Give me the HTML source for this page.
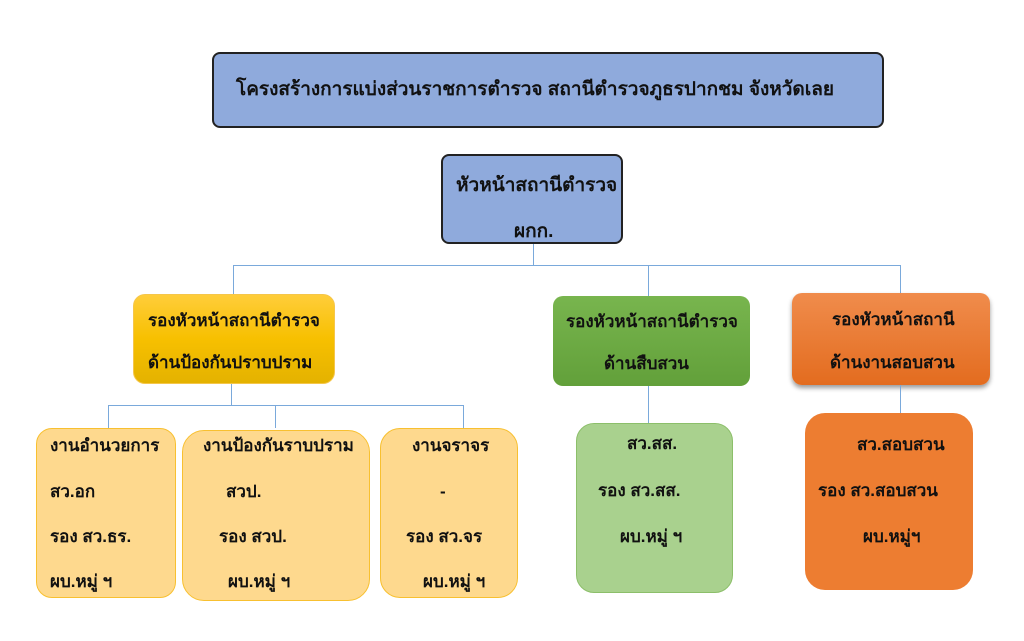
<!DOCTYPE html>
<html><head><meta charset="utf-8"><style>
body{margin:0;width:1024px;height:641px;background:#fff;position:relative;overflow:hidden;font-family:"Liberation Sans","DejaVu Sans",sans-serif;font-weight:bold;color:#111}
.b{position:absolute;box-sizing:border-box}
.t{position:absolute;font-size:17px;white-space:nowrap;line-height:20px}
.l{position:absolute;background:#7aa9db}
</style></head><body>
<div class="b" style="left:212px;top:52px;width:672px;height:76px;background:#8faadc;border:2px solid #222;border-radius:8px"></div>
<div class="t" style="left:236px;top:80px;font-size:19px">โครงสร้างการแบ่งส่วนราชการตำรวจ สถานีตำรวจภูธรปากชม จังหวัดเลย</div>
<div class="b" style="left:441px;top:154px;width:182px;height:90px;background:#8faadc;border:2px solid #222;border-radius:8px"></div>
<div class="t" style="left:456px;top:176px;font-size:19px">หัวหน้าสถานีตำรวจ</div>
<div class="t" style="left:514px;top:222px;font-size:19px">ผกก.</div>
<div class="l" style="left:533px;top:244px;width:1px;height:22px"></div>
<div class="l" style="left:233px;top:265px;width:668px;height:1px"></div>
<div class="l" style="left:233px;top:265px;width:1px;height:29px"></div>
<div class="l" style="left:648px;top:265px;width:1px;height:31px"></div>
<div class="l" style="left:900px;top:265px;width:1px;height:28px"></div>
<div class="b" style="left:133px;top:294px;width:202px;height:90px;background:linear-gradient(#ffcd3a,#f7c000 50%,#e4b200);border:1px solid #f5c64a;border-radius:12px"></div>
<div class="t" style="left:148px;top:311px">รองหัวหน้าสถานีตำรวจ</div>
<div class="t" style="left:148px;top:353px">ด้านป้องกันปราบปราม</div>
<div class="b" style="left:553px;top:296px;width:197px;height:90px;background:linear-gradient(#78b54e,#62a03a);border-radius:10px"></div>
<div class="t" style="left:566px;top:312px">รองหัวหน้าสถานีตำรวจ</div>
<div class="t" style="left:604px;top:354px">ด้านสืบสวน</div>
<div class="b" style="left:792px;top:293px;width:198px;height:92px;background:linear-gradient(#f08c4c,#e36c1f);border-radius:10px;box-shadow:0 3px 5px rgba(0,0,0,.4)"></div>
<div class="t" style="left:832px;top:310px">รองหัวหน้าสถานี</div>
<div class="t" style="left:830px;top:353px">ด้านงานสอบสวน</div>
<div class="l" style="left:231px;top:384px;width:1px;height:21px"></div>
<div class="l" style="left:108px;top:405px;width:356px;height:1px"></div>
<div class="l" style="left:108px;top:405px;width:1px;height:23px"></div>
<div class="l" style="left:275px;top:405px;width:1px;height:23px"></div>
<div class="l" style="left:463px;top:405px;width:1px;height:23px"></div>
<div class="b" style="left:36px;top:428px;width:140px;height:170px;background:#fed98e;border:1px solid #f8c030;border-radius:16px"></div>
<div class="t" style="left:50px;top:436px">งานอำนวยการ</div>
<div class="t" style="left:50px;top:482px">สว.อก</div>
<div class="t" style="left:50px;top:527px">รอง สว.ธร.</div>
<div class="t" style="left:50px;top:572px">ผบ.หมู่ ฯ</div>
<div class="b" style="left:182px;top:430px;width:188px;height:171px;background:#fed98e;border:1px solid #f8c030;border-radius:22px"></div>
<div class="t" style="left:203px;top:436px">งานป้องกันราบปราม</div>
<div class="t" style="left:226px;top:482px">สวป.</div>
<div class="t" style="left:219px;top:527px">รอง สวป.</div>
<div class="t" style="left:228px;top:572px">ผบ.หมู่ ฯ</div>
<div class="b" style="left:380px;top:428px;width:138px;height:170px;background:#fed98e;border:1px solid #f8c030;border-radius:20px"></div>
<div class="t" style="left:412px;top:436px">งานจราจร</div>
<div class="t" style="left:440px;top:482px">-</div>
<div class="t" style="left:406px;top:527px">รอง สว.จร</div>
<div class="t" style="left:423px;top:572px">ผบ.หมู่ ฯ</div>
<div class="l" style="left:648px;top:386px;width:1px;height:37px"></div>
<div class="b" style="left:576px;top:423px;width:157px;height:170px;background:#a9d18e;border:1px solid #8cbf6a;border-radius:18px"></div>
<div class="t" style="left:627px;top:434px">สว.สส.</div>
<div class="t" style="left:598px;top:481px">รอง สว.สส.</div>
<div class="t" style="left:620px;top:527px">ผบ.หมู่ ฯ</div>
<div class="l" style="left:900px;top:385px;width:1px;height:28px"></div>
<div class="b" style="left:805px;top:413px;width:168px;height:177px;background:#ed7d31;border-radius:20px"></div>
<div class="t" style="left:857px;top:435px">สว.สอบสวน</div>
<div class="t" style="left:818px;top:481px">รอง สว.สอบสวน</div>
<div class="t" style="left:863px;top:527px">ผบ.หมู่ฯ</div>
</body></html>
